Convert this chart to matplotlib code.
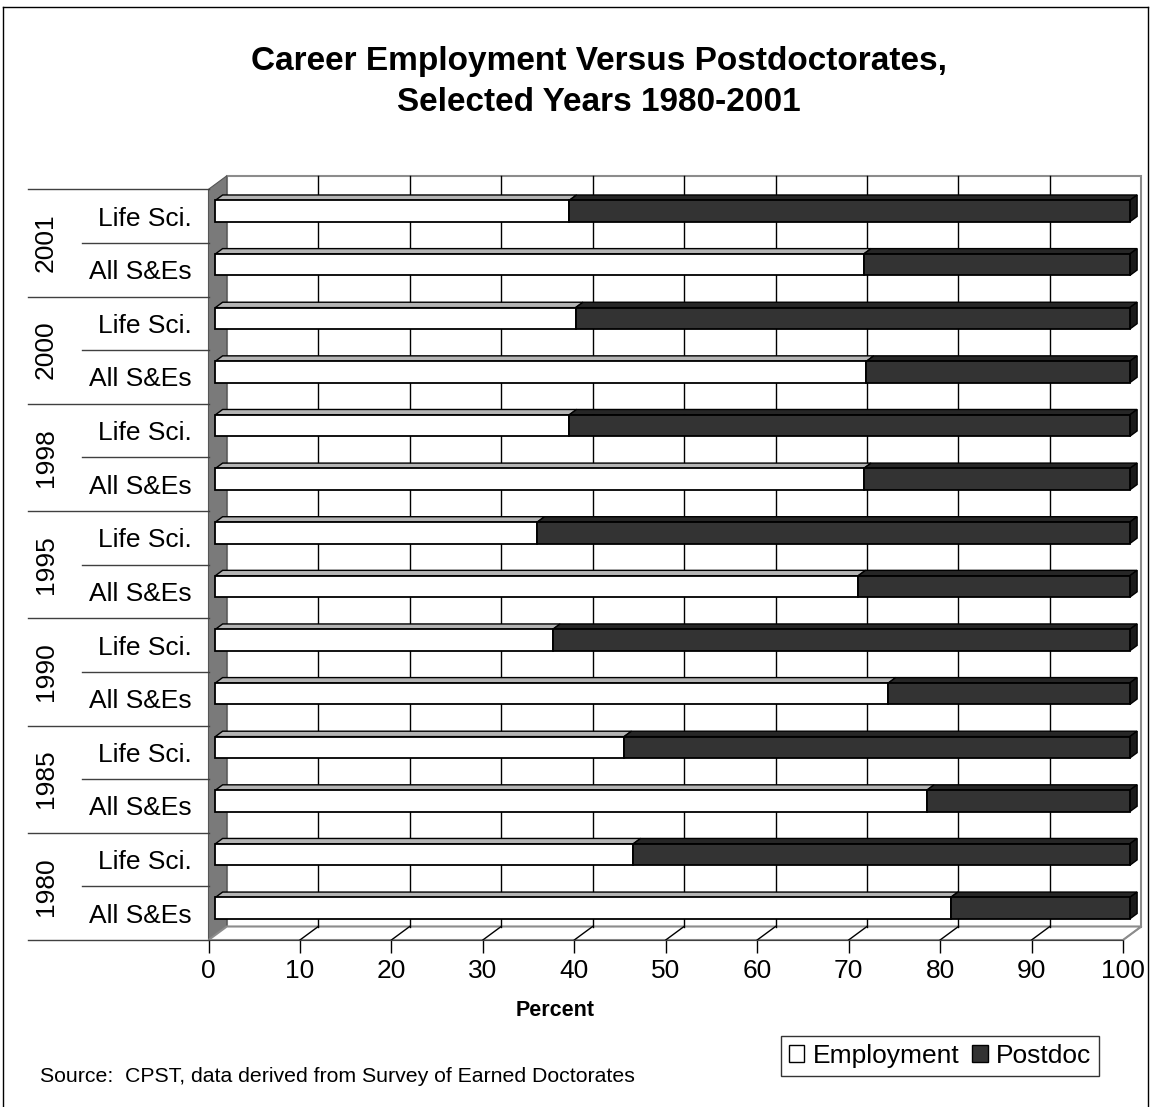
import matplotlib.pyplot as plt
import matplotlib.transforms as mtransforms
from matplotlib.patches import Polygon, Patch
from matplotlib.lines import Line2D

plt.rcParams['font.family'] = ['Liberation Sans', 'DejaVu Sans']

years = [1980, 1985, 1990, 1995, 1998, 2000, 2001]
groups = ['All S&Es', 'Life Sci.']
employment_all = [80.4, 77.8, 73.6, 70.3, 70.9, 71.2, 70.9]
employment_life = [45.7, 44.7, 36.9, 35.2, 38.7, 39.4, 38.7]

# rows run bottom to top: 1980 All, 1980 Life, 1985 All, ...
labels = []
employment = []
for i in range(len(years)):
    labels += groups
    employment += [employment_all[i], employment_life[i]]
postdoc = [100 - e for e in employment]
rows = list(range(len(labels)))

W, H = 1151, 1107
fig = plt.figure(figsize=(W / 100, H / 100), dpi=100)
ax = fig.add_axes([208.5 / W, (H - 940) / H, 914.5 / W, 750.7 / H])
ax.set_xlim(0, 100)
ax.set_ylim(-0.5, len(rows) - 0.5)

# depth of the 3-D box, in data units
px_x = 914.5 / 100
px_y = 750.7 / len(rows)
DX, DY = 18.3 / px_x, 13.5 / px_y
y0, y1 = -0.5, len(rows) - 0.5

# back wall, side wall and floor
ax.add_patch(Polygon([(DX, y0 + DY), (100 + DX, y0 + DY), (100 + DX, y1 + DY), (DX, y1 + DY)],
                     closed=True, facecolor='white', edgecolor='#8c8c8c', lw=1.5, clip_on=False, zorder=0))
ax.add_patch(Polygon([(0, y0), (DX, y0 + DY), (DX, y1 + DY), (0, y1)],
                     closed=True, facecolor='#7a7a7a', edgecolor='#555555', lw=0.8, clip_on=False, zorder=1))
ax.add_patch(Polygon([(0, y0), (100, y0), (100 + DX, y0 + DY), (DX, y0 + DY)],
                     closed=True, facecolor='white', edgecolor='#8c8c8c', lw=1.5, clip_on=False, zorder=1))
for k in range(10, 101, 10):
    if k < 100:
        ax.plot([k + DX, k + DX], [y0 + DY, y1 + DY], color='black', lw=1, clip_on=False, zorder=1)
    ax.plot([k, k + DX], [y0, y0 + DY], color='black' if k < 100 else '#8c8c8c', lw=1, clip_on=False, zorder=1)

# bars sit a little behind the front plane
face = mtransforms.offset_copy(ax.transData, fig=fig, x=6.8, y=5.0, units='dots')
bh = 0.40
tx, ty = 0.40 * DX, 0.40 * DY
ax.barh(rows, employment, height=bh, color='white', edgecolor='black', lw=1.3,
        transform=face, clip_on=False, zorder=5)
ax.barh(rows, postdoc, left=employment, height=bh, color='#333333', edgecolor='black', lw=1.3,
        transform=face, clip_on=False, zorder=5)
for r, e in zip(rows, employment):
    top = r + bh / 2
    bot = r - bh / 2
    ax.add_patch(Polygon([(0, top), (e, top), (e + tx, top + ty), (tx, top + ty)], closed=True,
                         facecolor='#b4b4b4', edgecolor='black', lw=1.0, transform=face,
                         clip_on=False, zorder=4))
    ax.add_patch(Polygon([(e, top), (100, top), (100 + tx, top + ty), (e + tx, top + ty)], closed=True,
                         facecolor='#262626', edgecolor='black', lw=1.0, transform=face,
                         clip_on=False, zorder=4))
    ax.add_patch(Polygon([(100, bot), (100, top), (100 + tx, top + ty), (100 + tx, bot + ty)], closed=True,
                         facecolor='#1a1a1a', edgecolor='black', lw=1.0, transform=face,
                         clip_on=False, zorder=4))

# axes styling
for s in ['top', 'right', 'left']:
    ax.spines[s].set_visible(False)
ax.spines['bottom'].set_color('#404040')
ax.spines['bottom'].set_zorder(2)
ax.set_xticks(range(0, 101, 10))
ax.tick_params(axis='x', length=9, width=1, color='black', pad=5, labelsize=19)
ax.set_yticks(rows)
ax.set_yticklabels(labels)
ax.tick_params(axis='y', length=0, pad=12, labelsize=19)
fig.text(555 / W, 1 - 1011 / H, 'Percent', ha='center', va='center', fontsize=15.5, fontweight='bold')

# category table on the left
yax = ax.get_yaxis_transform()
for b in range(len(rows) + 1):
    xs = -0.197 if b % 2 == 0 else -0.138
    ax.plot([xs, 0], [b - 0.5, b - 0.5], color='#404040', lw=1, transform=yax, clip_on=False)
for i, yr in enumerate(years):
    ax.text(-0.178, 2 * i + 0.5, str(yr), rotation=90, ha='center', va='center',
            fontsize=19, transform=yax)

fig.text(599 / W, 1 - 82 / H, 'Career Employment Versus Postdoctorates,\nSelected Years 1980-2001',
         ha='center', va='center', fontsize=24, fontweight='bold', linespacing=1.45)
fig.text(40 / W, 1 - 1077 / H, 'Source:  CPST, data derived from Survey of Earned Doctorates',
         ha='left', va='center', fontsize=15.3)

handles = [Patch(facecolor='white', edgecolor='black', label='Employment'),
           Patch(facecolor='#333333', edgecolor='black', label='Postdoc')]
leg = fig.legend(handles=handles, loc='center', bbox_to_anchor=(940 / W, 1 - 1056 / H), ncol=2,
                 fontsize=19, frameon=True, fancybox=False, edgecolor='black',
                 handlelength=0.6, handleheight=0.6, handletextpad=0.3, columnspacing=0.5,
                 borderpad=0.3)
leg.get_frame().set_linewidth(1)

# outer frame
for xs, ys in [([3, 1148], [7, 7]), ([1148, 1148], [7, 1107]), ([3, 3], [7, 1107])]:
    fig.add_artist(Line2D([x / W for x in xs], [1 - y / H for y in ys], color='black', lw=1))

fig.savefig('out.png', dpi=100)
